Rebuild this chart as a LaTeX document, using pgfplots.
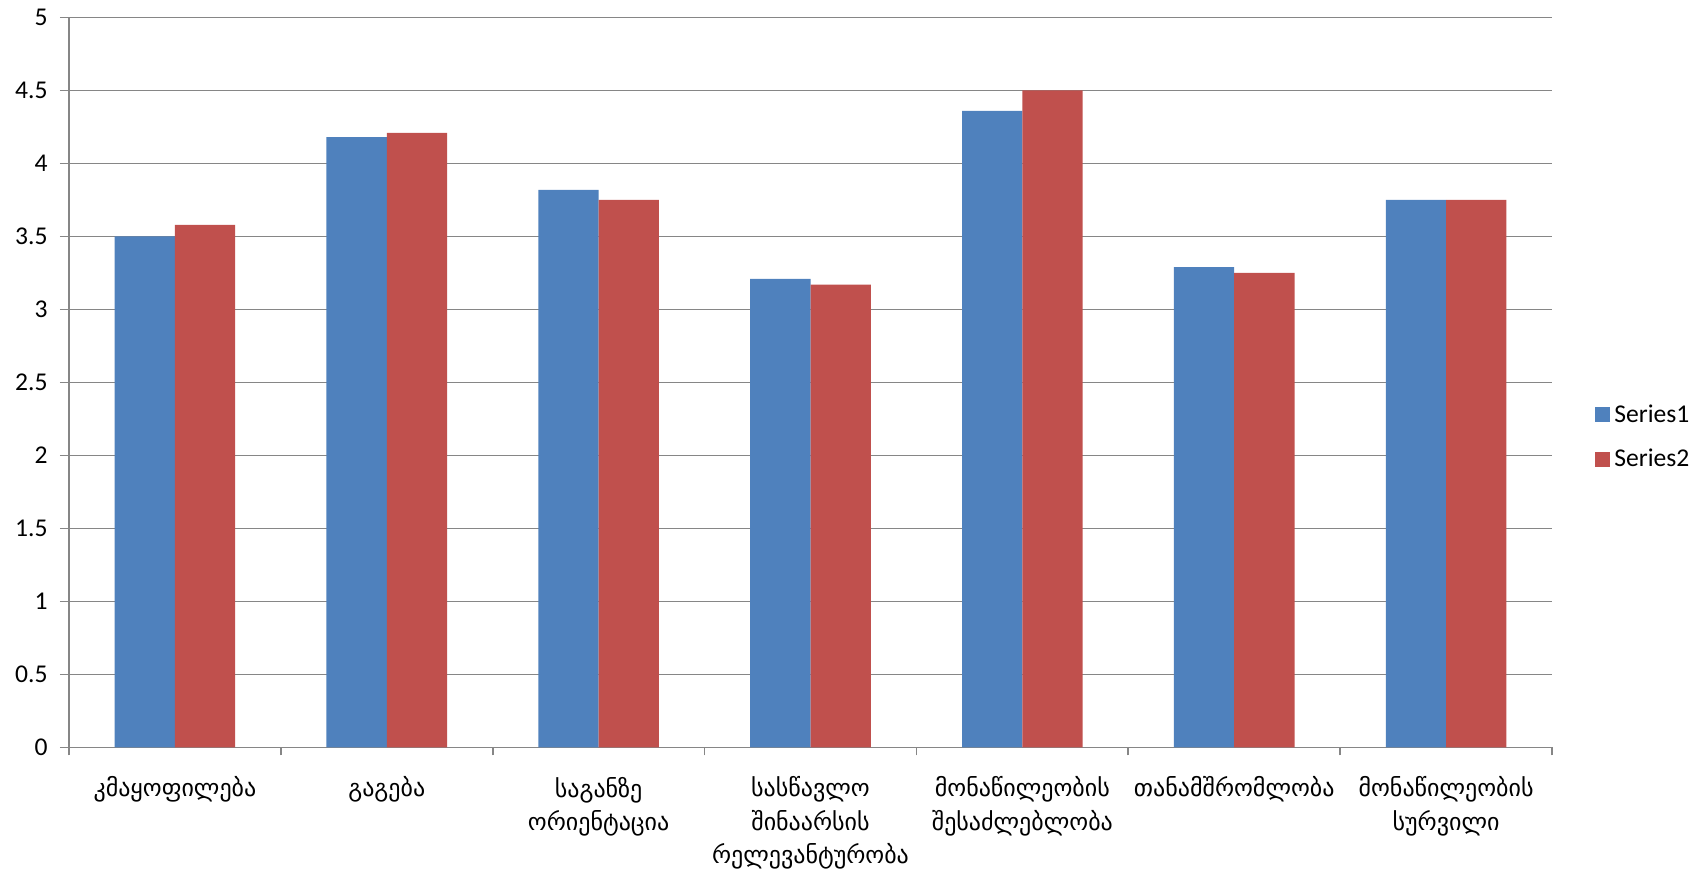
\documentclass[border=0pt]{standalone}
\usepackage{fontspec}
\setmainfont{Carlito}
\newfontfamily\geo{DejaVu Sans}
\usepackage{pgfplots}
\pgfplotsset{compat=1.18}
\definecolor{sblue}{HTML}{4F81BD}
\definecolor{sred}{HTML}{C0504D}
\definecolor{gridgray}{HTML}{868686}
\begin{document}
\begin{tikzpicture}
\useasboundingbox (-34.5pt,-61.75pt) rectangle (819pt,373.75pt);
\begin{axis}[
  at={(0pt,0pt)}, anchor=south west,
  width=741.5pt, height=365pt, scale only axis,
  xmin=-0.5, xmax=6.5, ymin=0, ymax=5,
  ybar=0pt, bar width=30.15pt,
  ytick={0,0.5,1,1.5,2,2.5,3,3.5,4,4.5,5},
  yticklabels={0,0.5,1,1.5,2,2.5,3,3.5,4,4.5,5},
  ymajorgrids, grid style={gridgray, line width=0.9pt},
  axis x line*=bottom, axis y line*=left,
  axis line style={gridgray, line width=0.9pt},
  tick align=outside,
  major tick length=4.5pt, minor tick length=4pt,
  tick style={gridgray, line width=0.9pt},
  xtick={0,1,2,3,4,5,6},
  minor xtick={-0.5,0.5,1.5,2.5,3.5,4.5,5.5,6.5},
  major x tick style={draw=none},
  xticklabels={
    კმაყოფილება,
    გაგება,
    {საგანზე\\ორიენტაცია},
    {სასწავლო\\შინაარსის\\რელევანტურობა},
    {მონაწილეობის\\შესაძლებლობა},
    თანამშრომლობა,
    {მონაწილეობის\\სურვილი}},
  x tick label style={font=\geo\fontsize{12}{16.75}\selectfont, align=center, anchor=north, inner sep=0pt, yshift=-10pt},
  y tick label style={font=\fontsize{12.8}{15}\selectfont, anchor=east, inner sep=0pt, xshift=-6pt},
  legend style={draw=none, fill=none, anchor=west, at={(1.029,0.425)}, font=\fontsize{12.8}{15}\selectfont, row sep=8pt, inner sep=0pt},
  legend cell align=left,
  legend image code/.code={\fill[#1] (0pt,-3.75pt) rectangle (7.5pt,3.75pt);},
]
\addplot[fill=sblue, draw=none] coordinates {(0,3.50) (1,4.18) (2,3.82) (3,3.21) (4,4.36) (5,3.29) (6,3.75)};
\addplot[fill=sred, draw=none] coordinates {(0,3.58) (1,4.21) (2,3.75) (3,3.17) (4,4.50) (5,3.25) (6,3.75)};
\legend{Series1,Series2}
\end{axis}
\end{tikzpicture}
\end{document}
